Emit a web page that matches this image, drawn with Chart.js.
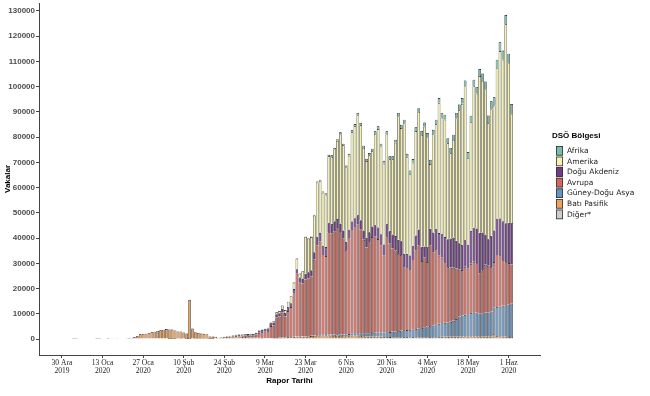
<!DOCTYPE html>
<html>
<head>
<meta charset="utf-8">
<script src="https://cdn.jsdelivr.net/npm/chart.js@4.4.0/dist/chart.umd.min.js"></script>
<style>
  html, body { margin: 0; padding: 0; background: #fff; }
  #wrap { position: relative; width: 650px; height: 396px; }
</style>
</head>
<body>
<div id="wrap"><canvas id="casesChart"></canvas></div>
<script>
// index 0 = 30 Ara 2019, one value per report day
const tickDays = [0, 14, 28, 42, 56, 70, 84, 98, 112, 126, 140, 154];
const tickLabels = [
    ['30 Ara', '2019'], ['13 Oca', '2020'], ['27 Oca', '2020'], ['10 Şub', '2020'],
    ['24 Şub', '2020'], ['9 Mar', '2020'], ['23 Mar', '2020'], ['6 Nis', '2020'],
    ['20 Nis', '2020'], ['4 May', '2020'], ['18 May', '2020'], ['1 Haz', '2020']
];
const yTickValues = [0, 10000, 20000, 30000, 40000, 50000, 60000, 70000, 80000, 90000, 100000, 110000, 120000, 130000];

const batiPasifik = [
    0, 0, 0, 0, 44, 15, 0, 0, 0, 0,
    0, 0, 41, 1, 0, 0, 17, 60, 80, 140,
    150, 200, 300, 400, 500, 650, 1050, 1850, 2000, 2100,
    2400, 2650, 2900, 3200, 3450, 3700, 3950, 3800, 3700, 3400,
    3000, 2900, 2600, 2100, 15500, 4200, 2600, 2300, 2050, 1950,
    1850, 1000, 950, 900, 520, 640, 700, 800, 900, 950,
    1050, 1000, 850, 800, 700, 600, 550, 500, 450, 350,
    300, 300, 300, 350, 400, 450, 550, 600, 650, 700,
    800, 900, 950, 900, 1000, 1100, 1150, 1200, 1300, 1300,
    1400, 1500, 1400, 1300, 1200, 1300, 1200, 1100, 1100, 1200,
    1300, 1400, 1300, 1200, 1100, 1000, 900, 900, 950, 900,
    850, 800, 800, 750, 700, 700, 700, 700, 650, 650,
    600, 650, 700, 700, 700, 700, 700, 650, 700, 700,
    800, 850, 900, 850, 900, 900, 900, 950, 1000, 1000,
    950, 1000, 1000, 1000, 1100, 1000, 1000, 900, 900, 2000,
    1200, 1000, 900, 900, 800, 800
];
const diger = [
    0, 0, 0, 0, 0, 0, 0, 0, 0, 0,
    0, 0, 0, 0, 0, 0, 0, 0, 0, 0,
    0, 0, 0, 0, 0, 0, 0, 0, 0, 0,
    0, 0, 0, 0, 0, 0, 0, 10, 41, 3,
    0, 66, 0, 39, 44, 0, 67, 70, 99, 88,
    79, 13, 13, 0, 0, 0, 0, 0, 0, 0,
    0, 0, 0, 0, 0, 0, 0, 0, 0, 0,
    0, 0, 0, 0, 0, 0, 0, 0, 0, 0,
    0, 0, 0, 0, 0, 0, 0, 0, 0, 0,
    0, 0, 0, 0, 0, 0, 0, 0, 0, 0,
    0, 0, 0, 0, 0, 0, 0, 0, 0, 0,
    0, 0, 0, 0, 0, 0, 0, 0, 0, 0,
    0, 0, 0, 0, 0, 0, 0, 0, 0, 0,
    0, 0, 0, 0, 0, 0, 0, 0, 0, 0,
    0, 0, 0, 0, 0, 0, 0, 0, 0, 0,
    0, 0, 0, 0, 0, 0
];
const guneyDoguAsya = [
    0, 0, 0, 0, 0, 0, 0, 0, 0, 0,
    0, 0, 0, 0, 0, 0, 0, 0, 0, 0,
    0, 0, 0, 0, 0, 0, 0, 0, 0, 0,
    0, 0, 0, 0, 0, 0, 0, 0, 0, 0,
    0, 0, 0, 0, 0, 0, 0, 0, 0, 0,
    0, 0, 0, 0, 0, 0, 0, 0, 0, 0,
    0, 0, 0, 2, 3, 3, 3, 4, 5, 3,
    5, 10, 10, 15, 20, 20, 30, 30, 30, 40,
    70, 80, 90, 100, 100, 120, 130, 200, 250, 300,
    300, 350, 400, 450, 500, 550, 600, 650, 700, 750,
    800, 900, 1000, 1100, 1200, 1300, 1400, 1500, 1600, 1700,
    1700, 1800, 1900, 2000, 2200, 2300, 2500, 2600, 2800, 2900,
    3000, 3100, 3300, 3500, 3700, 4000, 4300, 4500, 4700, 5000,
    5200, 5400, 5500, 5700, 5900, 6300, 7000, 8000, 8300, 8600,
    8900, 9300, 9600, 9500, 9000, 9200, 9400, 9600, 10000, 10500,
    11500, 11800, 12300, 12500, 12800, 13200
];
const avrupa = [
    0, 0, 0, 0, 0, 0, 0, 0, 0, 0,
    0, 0, 0, 0, 0, 0, 0, 0, 0, 0,
    0, 0, 0, 0, 0, 0, 0, 0, 0, 0,
    0, 0, 0, 0, 0, 0, 0, 0, 0, 0,
    0, 0, 0, 0, 0, 0, 0, 0, 0, 0,
    0, 0, 0, 0, 0, 40, 100, 180, 200, 300,
    350, 450, 550, 600, 750, 800, 950, 1300, 2000, 2300,
    2600, 2900, 4800, 5000, 8100, 8400, 9900, 8300, 10400, 11900,
    17300, 24900, 21500, 21000, 22500, 22800, 23500, 30000, 35500, 37000,
    32000, 31000, 40500, 40000, 41000, 42000, 40500, 38000, 33500, 38000,
    41000, 42000, 43000, 41000, 37000, 34000, 36000, 38000, 38000, 37000,
    34500, 30500, 38000, 35000, 33000, 32000, 30500, 30000, 25000, 25000,
    24000, 27500, 31000, 33000, 26500, 27500, 25500, 32000, 29000, 30000,
    27000, 26000, 24000, 22000, 21500, 21000, 20000, 18500, 18000, 19000,
    18000, 19500, 20000, 19500, 16000, 17000, 19000, 18500, 17500, 18000,
    20500, 20500, 18000, 17000, 16500, 15500
];
const doguAkdeniz = [
    0, 0, 0, 0, 0, 0, 0, 0, 0, 0,
    0, 0, 0, 0, 0, 0, 0, 0, 0, 0,
    0, 0, 0, 0, 0, 0, 0, 0, 0, 0,
    0, 0, 0, 0, 0, 0, 0, 0, 0, 0,
    0, 0, 0, 0, 0, 0, 0, 0, 0, 0,
    0, 0, 5, 10, 10, 20, 60, 100, 180, 230,
    280, 330, 380, 470, 500, 530, 600, 700, 900, 950,
    950, 1000, 1100, 1200, 1300, 1350, 1500, 1400, 1600, 1550,
    1600, 1800, 1800, 2000, 2300, 2400, 2500, 3000, 3500, 3500,
    3300, 3600, 3800, 3900, 4000, 3700, 3500, 3300, 3200, 3400,
    3500, 3600, 3700, 3800, 3700, 3900, 4000, 4200, 4500, 4600,
    4500, 4400, 5000, 5200, 5500, 5800, 5600, 5400, 5300, 5200,
    5500, 5700, 6000, 6200, 5700, 4500, 6000, 6500, 7800, 8000,
    9000, 9500, 10000, 11000, 11500, 12000, 11000, 10500, 10000, 10500,
    9500, 13000, 13500, 13800, 16000, 15000, 12000, 10500, 12500, 12500,
    14500, 14500, 15500, 15500, 16000, 16500
];
const amerika = [
    0, 0, 0, 0, 0, 0, 0, 0, 0, 0,
    0, 0, 0, 0, 0, 0, 0, 0, 0, 0,
    0, 0, 0, 0, 0, 0, 0, 0, 0, 0,
    0, 0, 0, 0, 0, 0, 0, 0, 0, 0,
    0, 0, 0, 0, 0, 0, 0, 0, 0, 0,
    0, 0, 0, 0, 0, 0, 0, 0, 10, 10,
    10, 15, 15, 25, 40, 60, 90, 90, 140, 190,
    240, 280, 380, 520, 750, 850, 1300, 1150, 2100, 2800,
    2600, 4200, 1600, 2900, 14600, 13400, 13100, 14500, 21500, 20600,
    21000, 20800, 26300, 26500, 28400, 31000, 35400, 33700, 29600, 29300,
    35300, 36400, 39700, 37600, 32700, 30300, 30500, 29800, 36200, 39000,
    34750, 32000, 35400, 28250, 29800, 37000, 49000, 44900, 51800, 38300,
    32300, 32900, 41400, 46600, 44300, 47500, 43500, 25700, 39000, 41400,
    51600, 46000, 46500, 38000, 33800, 38700, 48500, 52700, 55900, 61000,
    34400, 43200, 56100, 53400, 62100, 60100, 57600, 46000, 50100, 49500,
    59600, 66300, 64000, 78800, 63200, 43100
];
const afrika = [
    0, 0, 0, 0, 0, 0, 0, 0, 0, 0,
    0, 0, 0, 0, 0, 0, 0, 0, 0, 0,
    0, 0, 0, 0, 0, 0, 0, 0, 0, 0,
    0, 0, 0, 0, 0, 0, 0, 0, 0, 0,
    0, 0, 0, 0, 0, 0, 0, 0, 0, 0,
    0, 0, 0, 0, 0, 0, 0, 0, 0, 0,
    1, 1, 2, 2, 2, 3, 3, 3, 3, 5,
    5, 10, 10, 15, 30, 30, 20, 20, 20, 60,
    130, 120, 60, 100, 100, 180, 220, 300, 350, 400,
    500, 550, 600, 650, 600, 650, 700, 650, 700, 750,
    800, 900, 900, 900, 900, 900, 900, 1000, 1050, 1100,
    1100, 1100, 1200, 1200, 1200, 1200, 1300, 1300, 1350, 1350,
    1400, 1450, 1500, 1500, 1600, 1600, 1600, 1650, 1700, 1800,
    1900, 1850, 2000, 2050, 2100, 2100, 2200, 2250, 2300, 2400,
    2350, 2500, 2600, 2700, 2800, 2900, 3100, 3100, 3200, 3300,
    3400, 3500, 3600, 3700, 3800, 4000
];

// legend order (top of stack first)
const legendTitle = 'DSÖ Bölgesi';
const legendNames = ['Afrika', 'Amerika', 'Doğu Akdeniz', 'Avrupa', 'Güney-Doğu Asya', 'Batı Pasifik', 'Diğer*'];
const regionColors = {
    'Afrika': '#79bcac',
    'Amerika': '#f3f0b2',
    'Doğu Akdeniz': '#6f3d85',
    'Avrupa': '#d4675c',
    'Güney-Doğu Asya': '#6793c0',
    'Batı Pasifik': '#f0a25c',
    'Diğer*': '#cccccc'
};

// stack order, bottom first
const stackSeries = [
    ['Diğer*', diger],
    ['Batı Pasifik', batiPasifik],
    ['Güney-Doğu Asya', guneyDoguAsya],
    ['Avrupa', avrupa],
    ['Doğu Akdeniz', doguAkdeniz],
    ['Amerika', amerika],
    ['Afrika', afrika]
];

const legendPlugin = {
    id: 'dsoLegend',
    afterDraw(chart) {
        const ctx = chart.ctx;
        ctx.save();
        ctx.textBaseline = 'middle';
        ctx.textAlign = 'left';
        ctx.fillStyle = '#000';
        ctx.font = 'bold 8px "Liberation Sans", Arial, sans-serif';
        ctx.fillText(legendTitle, 552, 136);
        ctx.font = '7.5px "DejaVu Sans", Verdana, sans-serif';
        legendNames.forEach(function(name, i) {
            const y = 146 + i * 10.6;
            ctx.fillStyle = regionColors[name];
            ctx.fillRect(556, y, 7, 9.6);
            ctx.strokeStyle = '#333';
            ctx.lineWidth = 0.8;
            ctx.strokeRect(556.4, y + 0.4, 6.2, 8.8);
            ctx.fillStyle = '#222';
            ctx.fillText(name, 567, y + 5);
        });
        ctx.restore();
    }
};

window.onload = function() {
    const ctx = document.getElementById('casesChart').getContext('2d');

    new Chart(ctx, {
        type: 'bar',
        data: {
            datasets: stackSeries.map(function(s) {
                return {
                    label: s[0],
                    data: s[1].map(function(v, i) { return { x: i, y: v }; }),
                    backgroundColor: regionColors[s[0]],
                    borderColor: '#000',
                    borderWidth: 0.6,
                    barPercentage: 0.92,
                    categoryPercentage: 1
                };
            })
        },
        options: {
            responsive: true,
            maintainAspectRatio: false,
            animation: false,
            devicePixelRatio: 1,
            layout: { padding: { top: 0, right: 110, left: 0, bottom: 0 } },
            plugins: {
                legend: { display: false },
                tooltip: { enabled: false }
            },
            scales: {
                x: {
                    type: 'linear',
                    stacked: true,
                    offset: false,
                    min: -7.9,
                    max: 164.8,
                    afterBuildTicks: function(scale) {
                        scale.ticks = tickDays.map(function(v) { return { value: v }; });
                    },
                    afterFit: function(scale) { scale.height = 41; },
                    ticks: {
                        autoSkip: false,
                        maxRotation: 0,
                        padding: 1,
                        color: '#222',
                        font: { family: '"Liberation Serif", "Times New Roman", serif', size: 7.5, lineHeight: 1.1 },
                        callback: function(value, index) { return tickLabels[index]; }
                    },
                    grid: { offset: false, drawOnChartArea: false, drawTicks: true, tickLength: 3, color: '#444' },
                    border: { display: true, color: '#444', width: 1 },
                    title: {
                        display: true,
                        text: 'Rapor Tarihi',
                        color: '#000',
                        font: { family: '"Liberation Sans", Arial, sans-serif', size: 8, weight: 'bold' },
                        padding: { top: 0, bottom: 10 }
                    }
                },
                y: {
                    stacked: true,
                    min: -6340,
                    max: 133170,
                    afterBuildTicks: function(scale) {
                        scale.ticks = yTickValues.map(function(v) { return { value: v }; });
                    },
                    afterFit: function(scale) { scale.width = 39; },
                    ticks: {
                        padding: 1,
                        color: '#4d4d4d',
                        font: { family: '"Liberation Sans", Arial, sans-serif', size: 8, weight: 'bold', lineHeight: 0.5 },
                        callback: function(value) { return String(value); }
                    },
                    grid: { drawOnChartArea: false, drawTicks: true, tickLength: 3, color: '#444' },
                    border: { display: true, color: '#444', width: 1 },
                    title: {
                        display: true,
                        text: 'Vakalar',
                        color: '#000',
                        font: { family: '"Liberation Sans", Arial, sans-serif', size: 8, weight: 'bold' },
                        padding: { top: 3, bottom: 0 }
                    }
                }
            }
        },
        plugins: [legendPlugin]
    });
};
</script>
</body>
</html>
